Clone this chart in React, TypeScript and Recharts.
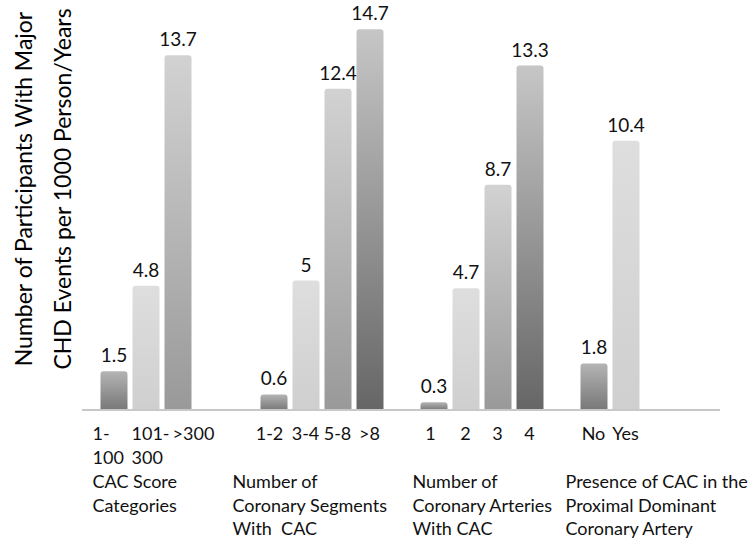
import { BarChart, Bar, XAxis, YAxis, Cell, LabelList } from "recharts";

// one slot per bar; empty strings are the gaps between the groups
const categories = ["1-100", "101-300", ">300", "", "", "1-2", "3-4", "5-8", ">8", "", "1", "2", "3", "4", "", "No", "Yes"];
const values = [1.5, 4.8, 13.7, null, null, 0.6, 5, 12.4, 14.7, null, 0.3, 4.7, 8.7, 13.3, null, 1.8, 10.4];
// shade of each bar (position inside its group)
const shades = [0, 1, 2, -1, -1, 0, 1, 2, 3, -1, 0, 1, 2, 3, -1, 0, 1];
// tick labels that wrap on two lines
const tickLines: Record<string, string[]> = {
  "1-100": ["1-", "100"],
  "101-300": ["101-", "300"],
};
const groupStarts = [0, 5, 10, 15];
const groupLabels = [
  ["CAC Score", "Categories"],
  ["Number of", "Coronary Segments", "With  CAC"],
  ["Number of", "Coronary Arteries", "With CAC"],
  ["Presence of CAC in the", "Proximal Dominant", "Coronary Artery"],
];
const yLabel = ["Number of Participants With Major", "CHD Events per 1000 Person/Years"];

const data = categories.map((name, i) => ({ name, value: values[i] }));

const FONT = "Lato, 'Noto Sans', sans-serif";
const groupDx = [-21, -41, -21, -28];
// small nudges so the wrapped labels sit like in the original
const tickStyle: Record<string, { dx: number; anchor: string }> = {
  "1-100": { dx: -21, anchor: "start" },
  "101-300": { dx: -14, anchor: "start" },
  ">300": { dx: 16, anchor: "middle" },
  "1-2": { dx: -4, anchor: "middle" },
  "1": { dx: -3, anchor: "middle" },
};
const gradients = [
  ["#b4b4b4", "#787878"],
  ["#dedede", "#cfcfcf"],
  ["#d2d2d2", "#999999"],
  ["#c6c6c6", "#666666"],
];

const Tick = (props: any) => {
  const { x, y, payload, index } = props;
  const label: string = payload.value;
  const lines = tickLines[label] || (label ? [label] : []);
  const st = tickStyle[label] || { dx: 0, anchor: "middle" };
  const g = groupStarts.indexOf(index);
  return (
    <g>
      {lines.map((l, k) => (
        <text key={k} x={x + st.dx} y={y + 30 + k * 24} textAnchor={st.anchor} fontSize={18} fontFamily={FONT} fill="#111">
          {l}
        </text>
      ))}
      {g >= 0 &&
        groupLabels[g].map((l, k) => (
          <text
            key={"g" + k}
            x={x + groupDx[g]}
            y={y + 78 + k * 23.5}
            textAnchor="start"
            fontSize={18}
            fontFamily={FONT}
            fill="#111"
            style={{ whiteSpace: "pre" }}
          >
            {l}
          </text>
        ))}
    </g>
  );
};

const YTitle = () => {
  const cy = 189;
  return (
    <g>
      {yLabel.map((l, k) => (
        <text
          key={k}
          x={0}
          y={0}
          transform={`translate(${32 + k * 39}, ${cy}) rotate(-90)`}
          textAnchor="middle"
          fontSize={23}
          fontFamily={FONT}
          fill="#000"
        >
          {l}
        </text>
      ))}
    </g>
  );
};

const App = () => {
  return (
    <div style={{ position: "absolute", left: 0, top: 0, background: "#fff" }}>
      <BarChart width={751} height={545} data={data} margin={{ top: 21.5, right: 31, bottom: 0, left: 0 }}>
        <defs>
          {gradients.map((c, i) => (
            <linearGradient key={i} id={"shade" + i} x1="0" y1="0" x2="0" y2="1">
              <stop offset="0%" stopColor={c[0]} />
              <stop offset="100%" stopColor={c[1]} />
            </linearGradient>
          ))}
        </defs>
        <XAxis
          dataKey="name"
          interval={0}
          height={135}
          padding={{ left: 15.5, right: 78.5 }}
          axisLine={{ stroke: "#c8c8c8", strokeWidth: 2 }}
          tickLine={false}
          tickSize={0}
          tickMargin={0}
          tick={<Tick />}
        />
        <YAxis width={82} domain={[0, 15]} axisLine={false} tickLine={false} tick={false} label={<YTitle />} />
        <Bar dataKey="value" barSize={27} radius={[3, 3, 0, 0]} isAnimationActive={false}>
          {data.map((d, i) => (
            <Cell key={i} fill={`url(#shade${Math.max(shades[i], 0)})`} />
          ))}
          <LabelList dataKey="value" position="top" offset={9} fontSize={19} fontFamily={FONT} fill="#111" />
        </Bar>
      </BarChart>
    </div>
  );
};

export default App;
